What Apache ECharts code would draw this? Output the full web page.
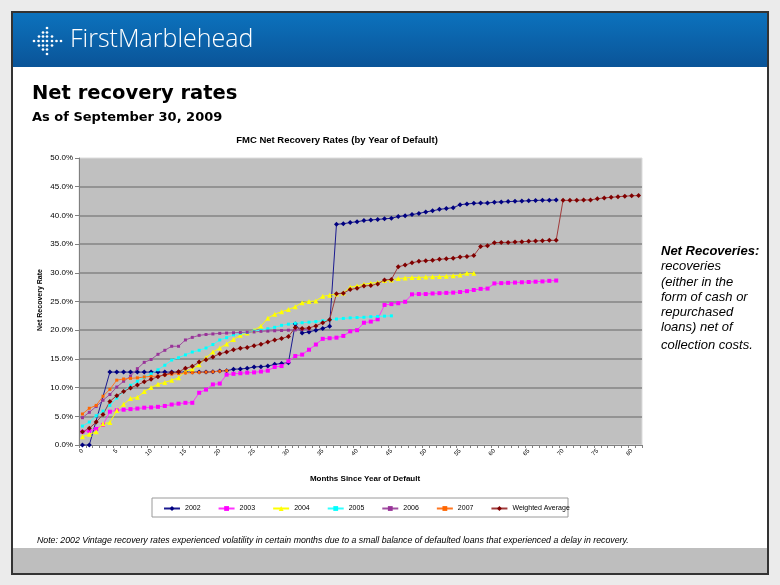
<!DOCTYPE html>
<html><head><meta charset="utf-8">
<script src="https://cdn.jsdelivr.net/npm/echarts@6/dist/echarts.min.js"></script>
<style>html,body{margin:0;padding:0;background:#ebebeb;}#c{width:780px;height:585px;}</style>
</head><body><div id="c"></div>
<script>
// ---- data ----
const months = [];
for (let m = 0; m <= 81; m++) months.push(String(m));
const yTicks = [0, 5, 10, 15, 20, 25, 30, 35, 40, 45, 50];
const seriesNames = ['2002', '2003', '2004', '2005', '2006', '2007', 'Weighted Average'];

const v2002 = [0,0,null,null,12.7,12.7,12.7,12.7,12.7,12.7,12.7,12.7,12.7,12.7,12.7,12.7,12.7,12.7,12.7,12.75,
  12.9,12.95,13.2,13.25,13.35,13.6,13.65,13.75,14.05,14.2,14.35,
  21.1,19.5,19.7,20.0,20.3,20.7,
  38.45,38.55,38.75,38.9,39.1,39.2,39.3,39.4,39.5,39.8,39.95,40.15,40.35,40.6,40.8,41.05,41.2,41.35,41.85,42.0,42.1,42.15,42.15,42.3,42.35,42.4,42.45,42.5,42.55,42.6,42.65,42.65,42.7];
const v2003 = [2.3,2.45,2.8,3.5,5.8,6.05,6.15,6.25,6.35,6.5,6.55,6.65,6.8,7.05,7.2,7.35,7.35,9.1,9.65,10.55,
  10.7,12.25,12.4,12.5,12.6,12.65,12.8,12.95,13.6,13.75,14.6,15.5,15.75,16.6,17.5,18.5,18.6,18.7,19.0,19.8,
  20.0,21.3,21.5,21.9,24.4,24.55,24.7,24.95,26.25,26.3,26.3,26.4,26.45,26.5,26.55,26.65,26.8,27.0,27.2,27.25,
  28.15,28.2,28.25,28.3,28.35,28.4,28.45,28.5,28.6,28.65];
const v2004 = [1.45,1.86,2.3,3.7,3.9,6.0,7.1,8.1,8.3,9.3,10.0,10.6,10.9,11.3,11.7,12.9,13.2,14.0,15.2,16.2,
  16.9,17.6,18.4,19.1,19.5,20.0,20.7,22.1,22.8,23.2,23.6,24.1,24.8,25.0,25.1,25.9,26.1,26.3,26.5,27.5,
  27.7,28.0,28.2,28.3,28.65,28.75,29.0,29.1,29.2,29.2,29.25,29.3,29.35,29.4,29.5,29.6,29.9,29.9];
const v2005 = [3.3,4.0,5.1,5.9,6.9,8.2,9.3,10.4,11.1,11.8,12.4,13.1,13.9,14.8,15.2,15.7,16.2,16.5,16.9,17.5,
  18.3,18.7,19.2,19.45,19.6,19.85,20.0,20.25,20.5,20.85,21.05,21.2,21.3,21.4,21.5,21.65,21.8,21.95,22.05,22.15,
  22.2,22.25,22.35,22.4,22.45,22.5];
const v2006 = [4.76,5.7,6.7,7.8,8.8,10.1,11.1,12.0,13.3,14.4,14.9,15.8,16.5,17.2,17.2,18.3,18.75,19.1,19.25,19.35,
  19.45,19.5,19.55,19.6,19.65,19.7,19.8,19.85,19.9,19.95,20.0,20.05,20.1,20.15];
const v2007 = [5.4,6.4,6.9,8.5,9.7,11.3,11.5,11.6,11.7,11.85,11.95,12.0,12.2,12.35,12.45,12.55,12.6,12.65,12.7,12.75,
  12.85,12.95];
const vAvg = [2.3,2.9,4.0,5.3,7.6,8.6,9.3,9.95,10.45,11.0,11.45,11.9,12.25,12.6,12.75,13.35,13.7,14.45,14.85,15.35,
  15.9,16.2,16.6,16.85,17.0,17.3,17.55,17.95,18.3,18.55,18.9,20.45,20.3,20.4,20.75,21.3,21.8,26.35,26.45,27.1,
  27.3,27.7,27.8,28.05,28.75,28.85,31.05,31.35,31.75,32.0,32.1,32.2,32.35,32.45,32.55,32.75,32.85,33.0,34.6,34.7,
  35.25,35.3,35.3,35.36,35.42,35.48,35.54,35.6,35.65,35.66,42.62,42.62,42.65,42.68,42.7,42.9,43.05,43.15,43.25,43.35,
  43.42,43.45];

// ---- styles ----
const colors = ['#000080', '#ff00ff', '#ffff00', '#00ffff', '#993399', '#ff6600', '#800000'];
const lineColors = ['#1a1a90', '#ff33ff', '#ffff00', '#33ffff', '#a050a0', '#ff7722', '#a03a3a'];
const symbols = ['diamond', 'rect', 'triangle', 'rect', 'rect', 'rect', 'diamond'];
const symbolSizes = [5, 4, 5, 3, 3, 3, 5];
const allData = [v2002, v2003, v2004, v2005, v2006, v2007, vAvg];

const chart = echarts.init(document.getElementById('c'), null, {renderer: 'canvas'});

// logo dots
const dotPts = [[47,28],[43,32.5],[47,32.5],[39,36.5],[43,36.5],[47,36.5],[52,36.5],
  [34,41],[38.5,41],[43,41],[47,41],[52,41],[56.5,41],[61,41],
  [39,45.5],[43,45.5],[47,45.5],[52,45.5],[43,49.5],[47,49.5],[47,54]];
const graphics = [
  {type: 'rect', shape: {x: 12, y: 12, width: 756, height: 562}, style: {fill: '#ffffff', stroke: '#333333', lineWidth: 2}, z: -10},
  {type: 'rect', shape: {x: 13, y: 13, width: 754, height: 54},
   style: {fill: new echarts.graphic.LinearGradient(0, 0, 0, 1, [{offset: 0, color: '#0c72bd'}, {offset: 1, color: '#0a5498'}])}, z: -9},
  {type: 'rect', shape: {x: 13, y: 548, width: 754, height: 25}, style: {fill: '#bebebe'}, z: -9},
  {type: 'text', left: 70, top: 27, style: {text: 'FirstMarblehead', fill: '#ffffff', fontFamily: 'Open Sans', fontSize: 25, fontWeight: 300}},
  {type: 'text', left: 32, top: 84, style: {text: 'Net recovery rates', fill: '#000', fontFamily: 'DejaVu Sans', fontSize: 19.5, fontWeight: 'bold'}},
  {type: 'text', left: 32, top: 111, style: {text: 'As of September 30, 2009', fill: '#000', fontFamily: 'DejaVu Sans', fontSize: 13, fontWeight: 'bold'}},
  {type: 'text', x: 337, y: 140, style: {text: 'FMC Net Recovery Rates (by Year of Default)', fill: '#000', fontFamily: 'Liberation Sans', fontSize: 9.5, fontWeight: 'bold', align: 'center', verticalAlign: 'middle'}},
  {type: 'text', x: 365, y: 479, style: {text: 'Months Since Year of Default', fill: '#000', fontFamily: 'Liberation Sans', fontSize: 8, fontWeight: 'bold', align: 'center', verticalAlign: 'middle'}},
  {type: 'text', x: 40, y: 300, rotation: Math.PI / 2, style: {text: 'Net Recovery Rate', fill: '#000', fontFamily: 'Liberation Sans', fontSize: 7, fontWeight: 'bold', align: 'center', verticalAlign: 'middle'}},
  {type: 'rect', shape: {x: 152, y: 498, width: 416, height: 19}, style: {fill: '#ffffff', stroke: '#9a9a9a', lineWidth: 1}, z: -1},
  {type: 'text', x: 661, y: 251, style: {text: 'Net Recoveries:', fill: '#000', fontFamily: 'Liberation Sans', fontSize: 13, fontWeight: 'bold', fontStyle: 'italic', verticalAlign: 'middle'}},
  {type: 'text', x: 661, y: 266, style: {text: 'recoveries', fill: '#000', fontFamily: 'Liberation Sans', fontSize: 13, fontStyle: 'italic', verticalAlign: 'middle'}},
  {type: 'text', x: 661, y: 282, style: {text: '(either in the', fill: '#000', fontFamily: 'Liberation Sans', fontSize: 13, fontStyle: 'italic', verticalAlign: 'middle'}},
  {type: 'text', x: 661, y: 297, style: {text: 'form of cash or', fill: '#000', fontFamily: 'Liberation Sans', fontSize: 13, fontStyle: 'italic', verticalAlign: 'middle'}},
  {type: 'text', x: 661, y: 312, style: {text: 'repurchased', fill: '#000', fontFamily: 'Liberation Sans', fontSize: 13, fontStyle: 'italic', verticalAlign: 'middle'}},
  {type: 'text', x: 661, y: 327, style: {text: 'loans) net of', fill: '#000', fontFamily: 'Liberation Sans', fontSize: 13, fontStyle: 'italic', verticalAlign: 'middle'}},
  {type: 'text', x: 661, y: 345, style: {text: 'collection costs.', fill: '#000', fontFamily: 'Liberation Sans', fontSize: 13, fontStyle: 'italic', verticalAlign: 'middle'}},
  {type: 'text', x: 37, y: 541, style: {text: 'Note: 2002 Vintage recovery rates experienced volatility in certain months due to a small balance of defaulted loans that experienced a delay in recovery.', fill: '#000', fontFamily: 'Liberation Sans', fontSize: 8.75, fontStyle: 'italic', verticalAlign: 'middle'}}
];
dotPts.forEach(p => graphics.push({type: 'circle', shape: {cx: p[0], cy: p[1], r: 1.35}, style: {fill: '#ffffff'}}));

const series = seriesNames.map((name, k) => ({
  name: name,
  type: 'line',
  data: allData[k],
  connectNulls: true,
  symbol: symbols[k],
  symbolSize: symbolSizes[k],
  showSymbol: true,
  showAllSymbol: true,
  lineStyle: {width: 1, color: lineColors[k]},
  itemStyle: {color: colors[k]},
  emphasis: {disabled: true},
  animation: false
}));

chart.setOption({
  animation: false,
  graphic: graphics,
  grid: {left: 79, right: 138, top: 158, bottom: 140, show: true, backgroundColor: '#c0c0c0', borderColor: '#dcdcdc', borderWidth: 1},
  legend: {
    data: seriesNames,
    left: 158, top: 500,
    itemWidth: 16, itemHeight: 6, itemGap: 17,
    textStyle: {fontFamily: 'Liberation Sans', fontSize: 7, color: '#000'}
  },
  xAxis: {
    type: 'category',
    data: months,
    boundaryGap: true,
    axisLine: {lineStyle: {color: '#808080', width: 1}},
    axisTick: {show: true, interval: 0, length: 3, lineStyle: {color: '#808080'}},
    axisLabel: {interval: 4, rotate: 45, fontSize: 6, fontFamily: 'Liberation Sans', color: '#000', margin: 5},
    splitLine: {show: false}
  },
  yAxis: {
    type: 'value',
    min: yTicks[0], max: yTicks[yTicks.length - 1], interval: 5,
    axisLine: {show: true, lineStyle: {color: '#808080'}},
    axisTick: {show: true, length: 4, lineStyle: {color: '#808080'}},
    axisLabel: {formatter: v => v.toFixed(1) + '%', fontSize: 8, fontFamily: 'Liberation Sans', color: '#000', margin: 6},
    splitLine: {show: true, showMaxLine: false, showMinLine: false, lineStyle: {color: '#848484', width: 1.5}}
  },
  series: series
});
</script>
</body></html>
